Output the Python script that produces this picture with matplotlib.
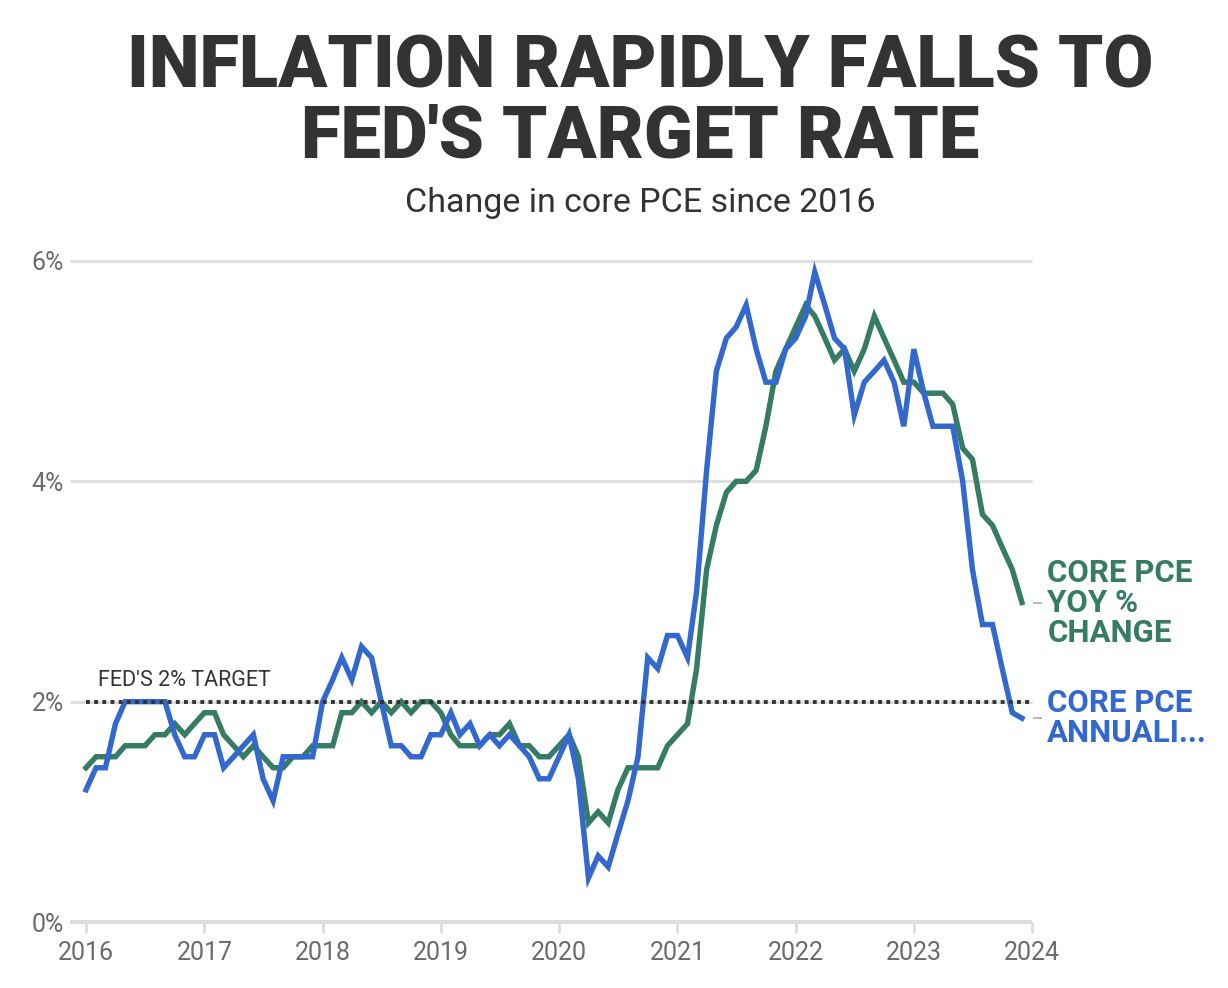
import matplotlib
matplotlib.use("Agg")
import matplotlib.pyplot as plt
import matplotlib.dates as mdates
import pandas as pd

# monthly values, Jan 2016 - Dec 2023
months = pd.date_range("2016-01-01", periods=96, freq="MS")

core_pce_yoy = [
    1.4, 1.5, 1.5, 1.5, 1.6, 1.6, 1.6, 1.7, 1.7, 1.8, 1.7, 1.8,   # 2016
    1.9, 1.9, 1.7, 1.6, 1.5, 1.6, 1.5, 1.4, 1.4, 1.5, 1.5, 1.6,   # 2017
    1.6, 1.6, 1.9, 1.9, 2.0, 1.9, 2.0, 1.9, 2.0, 1.9, 2.0, 2.0,   # 2018
    1.9, 1.7, 1.6, 1.6, 1.6, 1.7, 1.7, 1.8, 1.6, 1.6, 1.5, 1.5,   # 2019
    1.6, 1.7, 1.5, 0.9, 1.0, 0.9, 1.2, 1.4, 1.4, 1.4, 1.4, 1.6,   # 2020
    1.7, 1.8, 2.3, 3.2, 3.6, 3.9, 4.0, 4.0, 4.1, 4.5, 5.0, 5.2,   # 2021
    5.4, 5.6, 5.5, 5.3, 5.1, 5.2, 5.0, 5.2, 5.5, 5.3, 5.1, 4.9,   # 2022
    4.9, 4.8, 4.8, 4.8, 4.7, 4.3, 4.2, 3.7, 3.6, 3.4, 3.2, 2.9,   # 2023
]

core_pce_annualized = [
    1.2, 1.4, 1.4, 1.8, 2.0, 2.0, 2.0, 2.0, 2.0, 1.7, 1.5, 1.5,   # 2016
    1.7, 1.7, 1.4, 1.5, 1.6, 1.7, 1.3, 1.1, 1.5, 1.5, 1.5, 1.5,   # 2017
    2.0, 2.2, 2.4, 2.2, 2.5, 2.4, 2.0, 1.6, 1.6, 1.5, 1.5, 1.7,   # 2018
    1.7, 1.9, 1.7, 1.8, 1.6, 1.7, 1.6, 1.7, 1.6, 1.5, 1.3, 1.3,   # 2019
    1.5, 1.7, 1.3, 0.4, 0.6, 0.5, 0.8, 1.1, 1.5, 2.4, 2.3, 2.6,   # 2020
    2.6, 2.4, 3.0, 4.1, 5.0, 5.3, 5.4, 5.6, 5.2, 4.9, 4.9, 5.2,   # 2021
    5.3, 5.5, 5.9, 5.6, 5.3, 5.2, 4.6, 4.9, 5.0, 5.1, 4.9, 4.5,   # 2022
    5.2, 4.8, 4.5, 4.5, 4.5, 4.0, 3.2, 2.7, 2.7, 2.3, 1.9, 1.85,  # 2023
]

year_ticks = pd.date_range("2016-01-01", "2024-01-01", freq="YS")
y_ticks = [0, 2, 4, 6]
fed_target = 2.0

GREEN = "#367b64"
BLUE = "#3368cf"
DARK = "#333333"
GREY = "#6b6b6b"
GRID = "#dddddd"
FONT = ["Roboto", "DejaVu Sans"]
W, H = 1228, 988

fig = plt.figure(figsize=(W / 100, H / 100), dpi=100)
ax = fig.add_axes([86 / W, 1 - 922 / H, (1032 - 86) / W, (922 - 261) / H])

# grid lines (start a little left of the plot area, like the original)
ytrans = ax.get_yaxis_transform()
for v in y_ticks:
    ax.plot([-0.017, 1], [v, v], transform=ytrans, color=GRID,
            lw=3 if v == 0 else 2, zorder=0, clip_on=False,
            solid_capstyle="butt")

ax.plot(months, core_pce_yoy, color=GREEN, lw=3.9,
        solid_joinstyle="miter", zorder=3, clip_on=False)
ax.plot(months, core_pce_annualized, color=BLUE, lw=3.9,
        solid_joinstyle="miter", zorder=4, clip_on=False)

# Fed 2% target
ax.axhline(fed_target, color=DARK, lw=2.8, linestyle=(0, (1, 1.1)), zorder=5)
ax.annotate("FED'S 2% TARGET", xy=(0.0127, fed_target),
            xycoords=("axes fraction", "data"), xytext=(0, 8),
            textcoords="offset points", ha="left", va="bottom",
            fontsize=15.5, color=DARK, family=FONT)

# end labels
labels = [
    (core_pce_yoy[-1], "CORE PCE\nYOY %\nCHANGE", GREEN),
    (core_pce_annualized[-1], "CORE PCE\nANNUALI...", BLUE),
]
for val, txt, col in labels:
    ax.plot([1.002, 1.0095], [val, val], transform=ytrans, color="#bbbbbb",
            lw=1.5, clip_on=False)
    ax.annotate(txt, xy=(1.0, val), xycoords=("axes fraction", "data"),
                xytext=(11, 0), textcoords="offset points", ha="left",
                va="center", fontsize=22.5, fontweight="bold", color=col,
                family=FONT, linespacing=1.0)

ax.set_xlim(year_ticks[0], year_ticks[-1])
ax.set_ylim(0, 6)
ax.set_xticks(year_ticks)
ax.xaxis.set_major_formatter(mdates.DateFormatter("%Y"))
ax.set_yticks(y_ticks)
ax.set_yticklabels([f"{v}%" for v in y_ticks])

for s in ax.spines.values():
    s.set_visible(False)
ax.tick_params(axis="x", length=8, width=2, color=GRID, pad=6,
               labelsize=18, labelcolor=GREY)
ax.tick_params(axis="y", length=0, pad=16, labelsize=18, labelcolor=GREY)
for lab in ax.get_xticklabels() + ax.get_yticklabels():
    lab.set_family(FONT)

# titles
fig.text(640 / W, 1 - 87 / H, "INFLATION RAPIDLY FALLS TO", ha="center",
         va="baseline", fontsize=52, fontweight="black", color=DARK,
         family=FONT)
fig.text(640 / W, 1 - 157 / H, "FED'S TARGET RATE", ha="center",
         va="baseline", fontsize=52, fontweight="black", color=DARK,
         family=FONT)
fig.text(640 / W, 1 - 212 / H, "Change in core PCE since 2016", ha="center",
         va="baseline", fontsize=24.5, color=DARK, family=FONT)

fig.savefig("out.png", dpi=100)
